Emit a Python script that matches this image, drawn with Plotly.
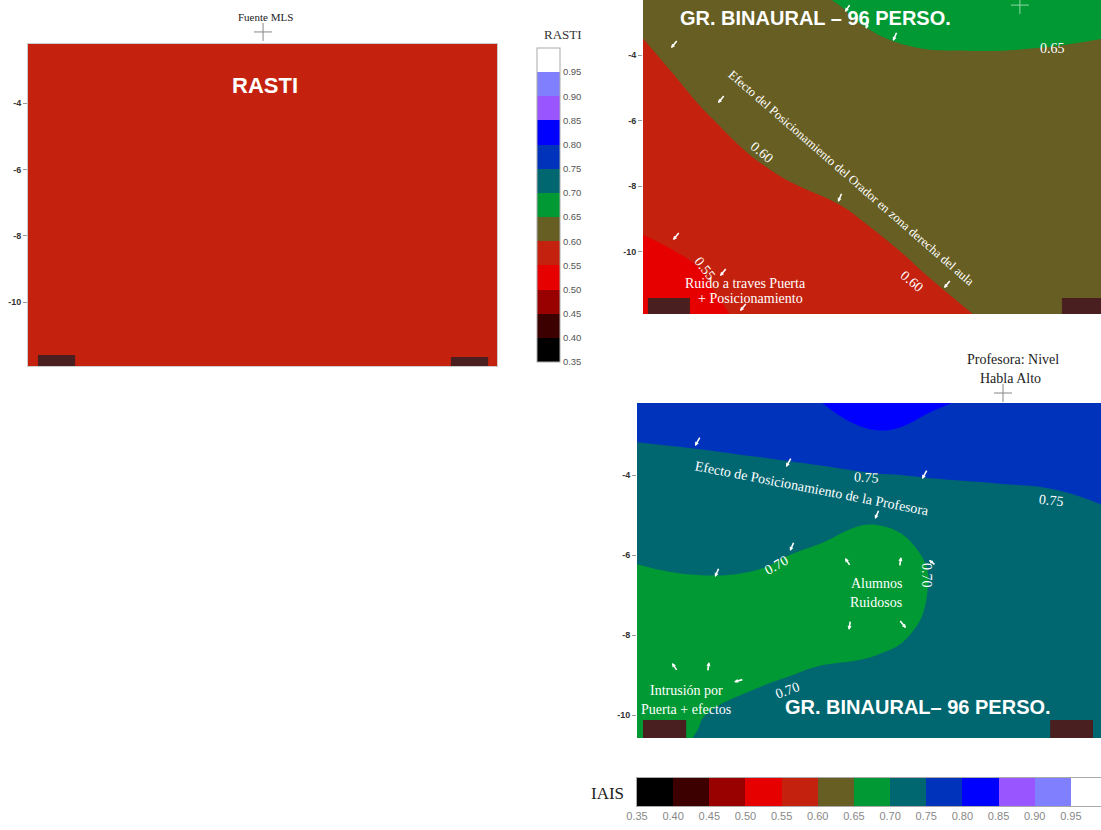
import plotly.graph_objects as go

W, H = 1101, 830


def fx(p):
    return p / W


def fy(p):
    return 1 - p / H


# ------------------------------------------------------------------ data
band_edges = [0.35, 0.40, 0.45, 0.50, 0.55, 0.60, 0.65, 0.70, 0.75, 0.80, 0.85, 0.90, 0.95, 1.00]
band_colors = ["#000000", "#3d0000", "#990000", "#e60000", "#c4210e", "#665e22", "#009933",
               "#00666f", "#0033bb", "#0000ff", "#9955ff", "#8080ff", "#ffffff"]
tick_vals = band_edges[:-1]
tick_text = ["%.2f" % v for v in tick_vals]
band_mid = [(a + b) / 2 for a, b in zip(band_edges[:-1], band_edges[1:])]

# Panel 1: RASTI (uniform 0.55-0.60)
rasti_x = [0.0, 14.5]
rasti_y = [-12.5, -1.5]
rasti_z = [[0.575, 0.575],
           [0.575, 0.575]]

# Panel 2: GR. BINAURAL (RASTI field)
bin_x = [0, 2, 4, 6, 8, 10, 12, 14]
bin_y = [-12, -10.5, -9, -7.5, -6, -4.5, -3, -1.5]
bin_z = [
    [0.532, 0.545, 0.559, 0.573, 0.586, 0.599, 0.610, 0.620],
    [0.537, 0.552, 0.567, 0.582, 0.597, 0.612, 0.620, 0.625],
    [0.556, 0.569, 0.583, 0.596, 0.609, 0.620, 0.625, 0.630],
    [0.570, 0.585, 0.601, 0.610, 0.618, 0.625, 0.630, 0.632],
    [0.585, 0.599, 0.610, 0.618, 0.625, 0.630, 0.634, 0.636],
    [0.594, 0.608, 0.616, 0.625, 0.635, 0.640, 0.641, 0.642],
    [0.603, 0.615, 0.630, 0.645, 0.663, 0.664, 0.660, 0.654],
    [0.610, 0.625, 0.648, 0.660, 0.675, 0.680, 0.675, 0.665],
]

# Panel 3: GR. BINAURAL - Profesora (IAIS field)
prof_x = [0, 1.5, 3, 4.5, 6, 7.5, 9, 10.5, 12]
prof_y = [-11, -10, -9, -8, -7, -6, -5, -4, -3, -2]
prof_z = [
    [0.692, 0.703, 0.715, 0.720, 0.722, 0.724, 0.726, 0.730, 0.745],
    [0.690, 0.698, 0.712, 0.718, 0.720, 0.722, 0.724, 0.726, 0.740],
    [0.688, 0.690, 0.694, 0.704, 0.712, 0.718, 0.722, 0.725, 0.730],
    [0.685, 0.688, 0.686, 0.685, 0.688, 0.710, 0.720, 0.725, 0.730],
    [0.690, 0.694, 0.690, 0.682, 0.680, 0.704, 0.720, 0.725, 0.730],
    [0.703, 0.706, 0.706, 0.695, 0.685, 0.7055, 0.720, 0.725, 0.730],
    [0.725, 0.725, 0.722, 0.715, 0.705, 0.722, 0.728, 0.730, 0.748],
    [0.735, 0.735, 0.735, 0.735, 0.748, 0.753, 0.756, 0.762, 0.770],
    [0.7533, 0.758, 0.768, 0.795, 0.798, 0.780, 0.775, 0.775, 0.780],
    [0.770, 0.772, 0.785, 0.801, 0.815, 0.811, 0.790, 0.785, 0.780],
]

# sound sources (room coordinates)
src1 = (7.08, -1.86)
src2 = (11.48, -2.48)
src3 = (9.15, -1.95)

# doors (x0, x1, y0, y1) in room coordinates
doors1 = [(0.30, 1.42, -12.2, -11.59), (12.74, 13.86, -12.2, -11.65)]
doors2 = [(0.15, 1.43, -12.2, -11.40), (12.76, 14.3, -12.2, -11.40)]
doors3 = [(0.15, 1.23, -11.0, -10.125), (10.33, 11.40, -11.0, -10.125)]

# ------------------------------------------------------------------ axes geometry
ax1 = dict(xd=[fx(28), fx(497)], xr=[0, 469 / 33.2],
           yd=[fy(366), fy(44)], yr=[-4 - 263 / 33.2, -4 + 59 / 33.2])
ax2 = dict(xd=[fx(643), 1.0], xr=[0, 458 / 32.83],
           yd=[fy(314), 1.0], yr=[-4 - 259 / 32.83, -4 + 55 / 32.83])
ax3 = dict(xd=[fx(637), 1.0], xr=[0, 11.6],
           yd=[fy(738), fy(403)], yr=[-10.575, -2.2])
# horizontal IAIS scale bar (470 px for 0.35..1.00, cut at the page edge)
ax4 = dict(xd=[fx(637), 1.0], xr=[0.35, 0.35 + (W - 637) / 470 * 0.65],
           yd=[fy(806), fy(778)], yr=[-0.5, 0.5])


def to_paper(ax, x, y):
    px_ = ax["xd"][0] + (x - ax["xr"][0]) / (ax["xr"][1] - ax["xr"][0]) * (ax["xd"][1] - ax["xd"][0])
    py_ = ax["yd"][0] + (y - ax["yr"][0]) / (ax["yr"][1] - ax["yr"][0]) * (ax["yd"][1] - ax["yd"][0])
    return px_, py_


# ------------------------------------------------------------------ figure
n = len(band_colors)
colorscale = []
for i, c in enumerate(band_colors):
    colorscale += [[i / n, c], [(i + 1) / n, c]]

SERIF = "Liberation Serif"
SANS = "Liberation Sans"

fig = go.Figure()

fig.add_trace(go.Heatmap(
    x=rasti_x, y=rasti_y, z=rasti_z, colorscale=colorscale, zmin=0.35, zmax=1.0,
    xaxis="x", yaxis="y", hoverinfo="skip", showscale=True,
    colorbar=dict(x=fx(537), xanchor="left", xpad=0, y=fy(205), yanchor="middle", ypad=0,
                  len=314, lenmode="pixels", thickness=23,
                  outlinecolor="#aaaaaa", outlinewidth=1,
                  tickvals=tick_vals, ticktext=tick_text, ticks="",
                  tickfont=dict(size=9.5, color="#555", family=SANS))))

contour_opts = dict(start=0.35, end=1.0, size=0.05, coloring="fill", showlines=False)
fig.add_trace(go.Contour(x=bin_x, y=bin_y, z=bin_z, colorscale=colorscale, showscale=False,
                         autocontour=False, contours=contour_opts,
                         line=dict(smoothing=1.3, width=0),
                         xaxis="x2", yaxis="y2", hoverinfo="skip"))
fig.add_trace(go.Contour(x=prof_x, y=prof_y, z=prof_z, colorscale=colorscale, showscale=False,
                         autocontour=False, contours=contour_opts,
                         line=dict(smoothing=1.3, width=0),
                         xaxis="x3", yaxis="y3", hoverinfo="skip"))

# IAIS colour scale bar
fig.add_trace(go.Heatmap(x=band_mid, y=[0], z=[band_mid], colorscale=colorscale,
                         zmin=0.35, zmax=1.0, showscale=False,
                         xaxis="x4", yaxis="y4", hoverinfo="skip"))

shapes = []
for doors, xr, yr in [(doors1, "x", "y"), (doors2, "x2", "y2"), (doors3, "x3", "y3")]:
    for (x0, x1, y0, y1) in doors:
        shapes.append(dict(type="rect", xref=xr, yref=yr, x0=x0, x1=x1, y0=y0, y1=y1,
                           fillcolor="#4a1f1f", line=dict(width=0), layer="above"))

# source crosses (drawn in paper space so they can sit above the plan)
for ax, (sx, sy), col in [(ax1, src1, "#888888"), (ax2, src2, "#8fd9a6"), (ax3, src3, "#888888")]:
    cx, cy = to_paper(ax, sx, sy)
    dx, dy = 9 / W, 9 / H
    shapes.append(dict(type="line", xref="paper", yref="paper", x0=cx - dx, x1=cx + dx, y0=cy, y1=cy,
                       line=dict(color=col, width=1)))
    shapes.append(dict(type="line", xref="paper", yref="paper", x0=cx, x1=cx, y0=cy - dy, y1=cy + dy,
                       line=dict(color=col, width=1)))

annotations = []


def txt(x, y, text, size=14, color="white", family=SERIF, angle=0, bold=False, xanchor="center"):
    if bold:
        text = "<b>%s</b>" % text
    annotations.append(dict(x=fx(x), y=fy(y), xref="paper", yref="paper", text=text,
                            showarrow=False, textangle=angle, xanchor=xanchor, yanchor="middle",
                            font=dict(size=size, color=color, family=family)))


def arrow(x, y, ax, ay):
    annotations.append(dict(x=fx(x), y=fy(y), xref="paper", yref="paper", text="",
                            showarrow=True, ax=ax * 1.4, ay=ay * 1.4, arrowhead=2, arrowsize=0.5,
                            arrowwidth=1.6, arrowcolor="white", standoff=0, startstandoff=0))


# Panel 1 texts
txt(265, 17, "Fuente MLS", size=11, color="#222")
txt(265, 86, "RASTI", size=22, family=SANS, bold=True)
txt(563, 35, "RASTI", size=13, color="#333")

# Panel 2 texts
txt(815, 18, "GR. BINAURAL – 96 PERSO.", size=20, family=SANS, bold=True)
txt(1052, 48, "0.65", size=14)
txt(762, 152, "0.60", size=14, angle=40)
txt(912, 281, "0.60", size=14, angle=40)
txt(705, 268, "0.55", size=14, angle=52)
txt(851, 178, "Efecto del Posicionamiento del Orador en zona derecha del aula", size=12.5, angle=41)
txt(745, 283, "Ruido a traves Puerta", size=14)
txt(750, 298, "+ Posicionamiento", size=14)

# Panel 3 texts
txt(1013, 359, "Profesora: Nivel", size=14, color="#222")
txt(1010, 378, "Habla Alto", size=14, color="#222")
txt(866, 477, "0.75", size=14, angle=4)
txt(1051, 500, "0.75", size=14, angle=6)
txt(776, 565, "0.70", size=14, angle=-30)
txt(927, 575, "0.70", size=14, angle=90)
txt(787, 690, "0.70", size=14, angle=-20)
txt(812, 488, "Efecto de Posicionamiento de la Profesora", size=14, angle=11)
txt(876, 583, "Alumnos", size=14)
txt(876, 602, "Ruidosos", size=14)
txt(686, 690, "Intrusión por", size=14)
txt(686, 709, "Puerta + efectos", size=14)
txt(918, 707, "GR. BINAURAL– 96 PERSO.", size=20, family=SANS, bold=True)
txt(607, 793, "IAIS", size=17, color="#222")

# arrows panel 2
for a in [(671, 48, 5, -6), (718, 103, 5, -6), (838, 202, 3, -7), (673, 240, 5, -6),
          (720, 276, 5, -6), (740, 311, 5, -6), (944, 288, 5, -6), (845, 12, 4, -6),
          (866, 29, 2, -7), (893, 41, 3, -7)]:
    arrow(*a)
# arrows panel 3
for a in [(695, 446, 4, -7), (786, 467, 4, -7), (922, 479, 4, -7), (875, 519, 3, -7),
          (790, 551, 3, -7), (715, 577, 3, -7), (845, 558, 4, 6), (901, 557, -1, 7),
          (929, 560, 5, 4), (849, 630, 1, -7), (906, 628, -5, -6), (672, 663, 4, 6),
          (709, 662, -1, 7), (734, 682, 7, -2)]:
    arrow(*a)

yfont = dict(size=9, color="#333", family=SANS)
hidden_x = dict(showticklabels=False, showgrid=False, zeroline=False, ticks="", showline=False)
y_common = dict(tickvals=[-4, -6, -8, -10], ticktext=["<b>-4</b>", "<b>-6</b>", "<b>-8</b>", "<b>-10</b>"],
                ticks="outside", ticklen=4, tickcolor="#999", tickfont=yfont,
                showgrid=False, zeroline=False, showline=False)
frame1 = dict(showline=True, mirror=True, linecolor="#cccccc", linewidth=1)

fig.update_layout(
    width=W, height=H,
    margin=dict(l=0, r=0, t=0, b=0, autoexpand=False),
    paper_bgcolor="white", plot_bgcolor="white", showlegend=False,
    xaxis=dict(domain=ax1["xd"], range=ax1["xr"], anchor="y", **{**hidden_x, **frame1}),
    yaxis=dict(domain=ax1["yd"], range=ax1["yr"], anchor="x", **{**y_common, **frame1}),
    xaxis2=dict(domain=ax2["xd"], range=ax2["xr"], anchor="y2", **hidden_x),
    yaxis2=dict(domain=ax2["yd"], range=ax2["yr"], anchor="x2", **y_common),
    xaxis3=dict(domain=ax3["xd"], range=ax3["xr"], anchor="y3", **hidden_x),
    yaxis3=dict(domain=ax3["yd"], range=ax3["yr"], anchor="x3", **y_common),
    xaxis4=dict(domain=ax4["xd"], range=ax4["xr"], anchor="y4", tickvals=tick_vals, ticktext=tick_text,
                ticks="", tickfont=dict(size=11, color="#888", family=SANS),
                showgrid=False, zeroline=False, showline=True, mirror=True, linecolor="#aaaaaa",
                linewidth=1),
    yaxis4=dict(domain=ax4["yd"], range=ax4["yr"], anchor="x4", showticklabels=False, ticks="",
                showgrid=False, zeroline=False, showline=True, mirror=True, linecolor="#aaaaaa",
                linewidth=1),
    shapes=shapes,
    annotations=annotations,
)

fig.write_html("out.html", config={"displayModeBar": False},
               post_script="document.body.style.margin='0';document.body.style.overflow='hidden';")
